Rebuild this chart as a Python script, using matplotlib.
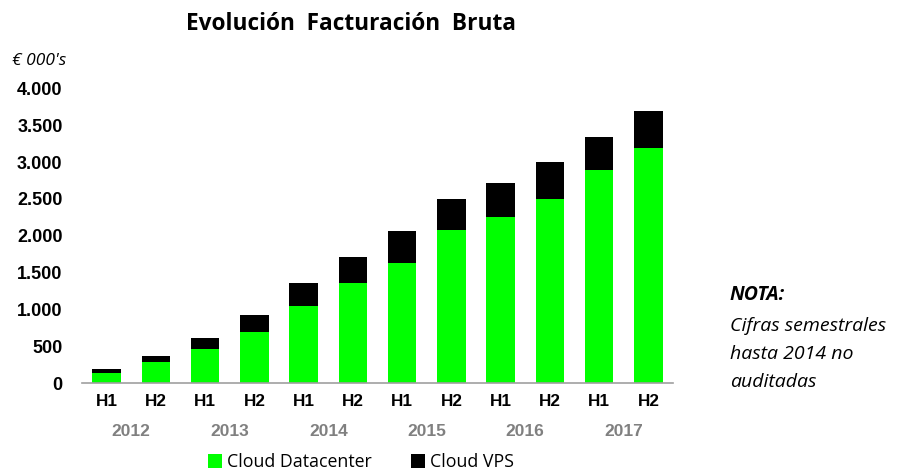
import matplotlib
matplotlib.use("Agg")
import matplotlib.pyplot as plt
from matplotlib.patches import Patch
import matplotlib.transforms as mtransforms

halves = ["H1", "H2"] * 6
years = ["2012", "2013", "2014", "2015", "2016", "2017"]
datacenter = [140, 285, 458, 693, 1046, 1359, 1626, 2083, 2260, 2496, 2894, 3189]
vps = [46, 82, 157, 235, 308, 349, 443, 417, 453, 507, 453, 507]
yticks = [0, 500, 1000, 1500, 2000, 2500, 3000, 3500, 4000]
ytick_labels = ["0", "500", "1.000", "1.500", "2.000", "2.500", "3.000", "3.500", "4.000"]

W, H = 908, 470
fig = plt.figure(figsize=(W / 100, H / 100), dpi=100)
ax = fig.add_axes([82 / W, (H - 383) / H, 591 / W, 294.5 / H])

x = list(range(len(datacenter)))
green = "#00ff00"
ax.bar(x, datacenter, width=0.58, color=green, edgecolor="none", zorder=2)
ax.bar(x, vps, bottom=datacenter, width=0.58, color="black", edgecolor="none", zorder=2)

ax.set_xlim(-0.5, len(x) - 0.5)
ax.set_ylim(0, 4000)
ax.set_yticks(yticks)
ax.set_yticklabels(ytick_labels, fontsize=13, fontweight="bold", family="Liberation Sans")
ax.set_xticks(x)
ax.set_xticklabels(halves, fontsize=12.3, fontweight="bold", family="Liberation Sans")
ax.tick_params(axis="both", length=0)
ax.tick_params(axis="y", pad=14)
ax.tick_params(axis="x", pad=8)
for s in ["top", "right", "left"]:
    ax.spines[s].set_visible(False)
ax.spines["bottom"].set_color("#a0a0a0")
ax.spines["bottom"].set_linewidth(1.2)

# year labels below the half-year labels
trans = mtransforms.blended_transform_factory(ax.transData, fig.transFigure)
for i, yr in enumerate(years):
    ax.text(2 * i + 0.5, (H - 432) / H, yr, transform=trans, ha="center", va="center",
            fontsize=12.5, fontweight="bold", color="#808080", family="Liberation Sans")

fig.text(351 / W, (H - 24) / H, "Evolución  Facturación  Bruta", ha="center", va="center",
         fontsize=16.3, fontweight="bold", family="Open Sans")
fig.text(12 / W, (H - 61) / H, "€ 000's", ha="left", va="center", fontsize=12.5,
         style="italic", family="Open Sans")

fig.text(730 / W, (H - 295) / H, "NOTA:", ha="left", va="center", fontsize=14,
         style="italic", fontweight="bold", family="Open Sans")
for yy, line in zip([326, 354, 382], ["Cifras semestrales", "hasta 2014 no", "auditadas"]):
    fig.text(730 / W, (H - yy) / H, line, ha="left", va="center", fontsize=14,
             style="italic", family="Open Sans")

handles = [Patch(facecolor=green, edgecolor="none", label="Cloud Datacenter"),
           Patch(facecolor="black", edgecolor="none", label="Cloud VPS")]
fig.legend(handles=handles, loc="center", bbox_to_anchor=(361 / W, (H - 462) / H), ncol=2,
           frameon=False, prop={"family": "Open Sans", "size": 12.8}, handlelength=0.8,
           handleheight=0.8, handletextpad=0.3, columnspacing=2.2)

fig.savefig("out.png", dpi=100)
